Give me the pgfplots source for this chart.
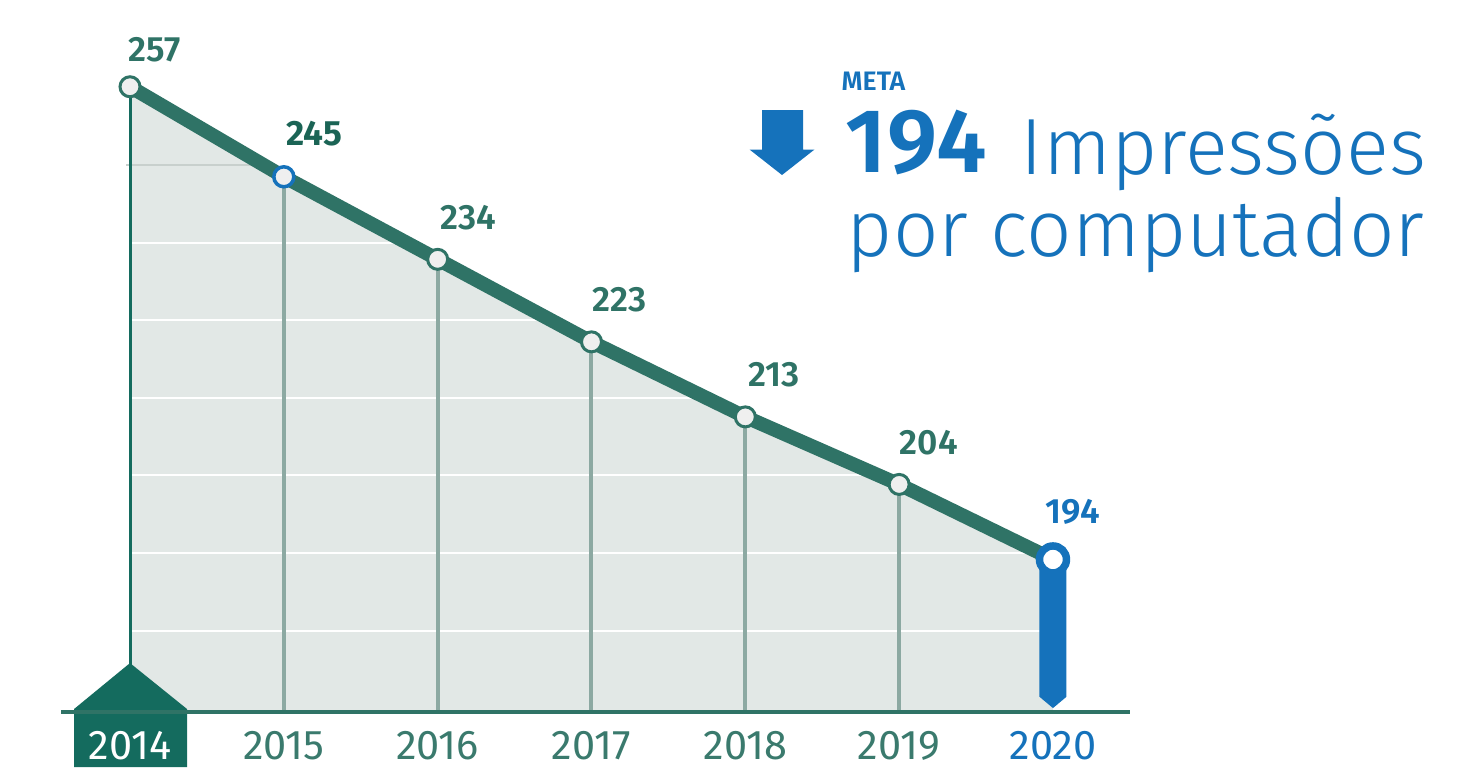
\documentclass[border=0pt]{standalone}
\usepackage{pgfplots}
\pgfplotsset{compat=1.18}
\usepackage{fontspec}
\setmainfont{Fira Sans}[BoldFont={Fira Sans SemiBold}]
\newfontfamily\lightfont{Fira Sans Light}
\definecolor{fillgray}{HTML}{E2E8E6}
\definecolor{linegreen}{HTML}{2F7366}
\definecolor{darkgreen}{HTML}{146B5E}
\definecolor{dropgray}{HTML}{8CA9A2}
\definecolor{mblue}{HTML}{1572BB}
\definecolor{labgreen}{HTML}{2F7366}
\definecolor{labdark}{HTML}{1B6455}
\definecolor{yeargreen}{HTML}{3A7A6D}
\definecolor{markfill}{HTML}{EFEFEF}
\definecolor{gridtop}{HTML}{C8D0CD}
\begin{document}
\begin{tikzpicture}
\begin{axis}[
  width=148.4mm, height=78.1mm, scale only axis,
  xmin=2013.1549, xmax=2022.8019, ymin=164.47, ymax=268.56,
  axis lines=none, clip=false, ticks=none,
]
% area
\addplot[fill=fillgray, draw=none] coordinates {(2014,257) (2015,245) (2016,234) (2017,223) (2018,213) (2019,204) (2020,194) (2020,173.66) (2014,173.66)} -- cycle;
% grid lines
\addplot[gridtop, line width=0.2mm] coordinates {(2013.974,246.6) (2014.867,246.6)};
\addplot[white, line width=0.2mm] coordinates {(2013.974,236.2) (2020,236.2)};
\addplot[white, line width=0.2mm] coordinates {(2013.974,225.9) (2020,225.9)};
\addplot[white, line width=0.2mm] coordinates {(2013.974,215.5) (2020,215.5)};
\addplot[white, line width=0.2mm] coordinates {(2013.974,205.2) (2020,205.2)};
\addplot[white, line width=0.2mm] coordinates {(2013.974,194.9) (2020,194.9)};
\addplot[white, line width=0.2mm] coordinates {(2013.974,184.5) (2020,184.5)};
% drop lines
\addplot[dropgray, line width=0.4mm] coordinates {(2015,245) (2015,173.66)};
\addplot[dropgray, line width=0.4mm] coordinates {(2016,234) (2016,173.66)};
\addplot[dropgray, line width=0.4mm] coordinates {(2017,223) (2017,173.66)};
\addplot[dropgray, line width=0.4mm] coordinates {(2018,213) (2018,173.66)};
\addplot[dropgray, line width=0.4mm] coordinates {(2019,204) (2019,173.66)};
% 2014 house
\fill[darkgreen] (axis cs:2013.636,166.33) -- (axis cs:2013.636,174.06) -- (axis cs:2014,180.19) -- (axis cs:2014.371,174.06) -- (axis cs:2014.371,166.33) -- cycle;
\addplot[darkgreen, line width=0.3mm] coordinates {(2014,257) (2014,173.66)};
% baseline
\draw[linegreen, line width=0.4mm] (axis cs:2013.5515,173.66) -- (axis cs:2020.5007,173.66);
% blue bar 2020
\fill[mblue] (axis cs:2019.9122,194) -- (axis cs:2019.9122,175.70) -- (axis cs:2020,174.19) -- (axis cs:2020.0878,175.70) -- (axis cs:2020.0878,194) -- cycle;
% main line
\addplot[linegreen, line width=1.4mm, line join=round] coordinates {(2014,257) (2015,245) (2016,234) (2017,223) (2018,213) (2019,204) (2020,194)};
% markers
\addplot[only marks, mark=*, mark size=1.0mm, mark options={fill=markfill, draw=linegreen, line width=0.3mm}] coordinates {(2014,257) (2016,234) (2017,223) (2018,213) (2019,204)};
\addplot[only marks, mark=*, mark size=1.0mm, mark options={fill=markfill, draw=mblue, line width=0.35mm}] coordinates {(2015,245)};
\addplot[only marks, mark=*, mark size=1.35mm, mark options={fill=white, draw=mblue, line width=0.75mm}] coordinates {(2020,194)};
% value labels
\begin{scope}[every node/.style={anchor=base west, inner sep=0pt, font=\fontsize{10}{11}\selectfont\bfseries}]
\node[labgreen, yshift=2.5mm, xshift=-0.2mm] at (axis cs:2014,257) {257};
\node[labdark, yshift=3.1mm, xshift=0.2mm, font=\fontsize{10}{11}\selectfont\fontspec{Fira Sans Bold}] at (axis cs:2015,245) {245};
\node[labgreen, yshift=3mm, xshift=0.2mm] at (axis cs:2016,234) {234};
\node[labgreen, yshift=3mm] at (axis cs:2017,223) {223};
\node[labgreen, yshift=3mm, xshift=0.2mm] at (axis cs:2018,213) {213};
\node[labgreen, yshift=3mm] at (axis cs:2019,204) {204};
\node[mblue, yshift=3.6mm, xshift=-0.8mm] at (axis cs:2020,194) {194};
\end{scope}
% year labels
\begin{scope}[every node/.style={anchor=base, inner sep=0pt, font=\fontsize{11.8}{13}\selectfont}]
\node[white] at (axis cs:2014,167.40) {2014};
\node[yeargreen] at (axis cs:2015,167.40) {2015};
\node[yeargreen] at (axis cs:2016,167.40) {2016};
\node[yeargreen] at (axis cs:2017,167.40) {2017};
\node[yeargreen] at (axis cs:2018,167.40) {2018};
\node[yeargreen] at (axis cs:2019,167.40) {2019};
\node[mblue] at (axis cs:2020,167.40) {2020};
\end{scope}
\end{axis}
% title block, pixel coordinates
\begin{scope}[x=0.1mm, y=-0.1mm, shift={(0mm,78.1mm)}]
\fill[mblue] (762,110) -- (803,110) -- (803,149.5) -- (814.5,149.5) -- (782,175) -- (749.5,149.5) -- (762,149.5) -- cycle;
\node[anchor=base west, inner sep=0pt, mblue, font=\fontsize{7.6}{9}\selectfont\bfseries] at (841,90.7) {META};
\node[anchor=base west, inner sep=0pt, mblue, font=\fontsize{25.8}{30}\selectfont\bfseries] at (845,172.7) {194};
\node[anchor=base west, inner sep=0pt, mblue, font=\fontsize{22.7}{28}\selectfont\lightfont] at (1020,174) {Impressões};
\node[anchor=base west, inner sep=0pt, mblue, font=\fontsize{22.7}{28}\selectfont\lightfont] at (846,256) {por computador};
\end{scope}
\pgfresetboundingbox
\path (0mm,0mm) rectangle (148.4mm,78.1mm);
\end{tikzpicture}
\end{document}
